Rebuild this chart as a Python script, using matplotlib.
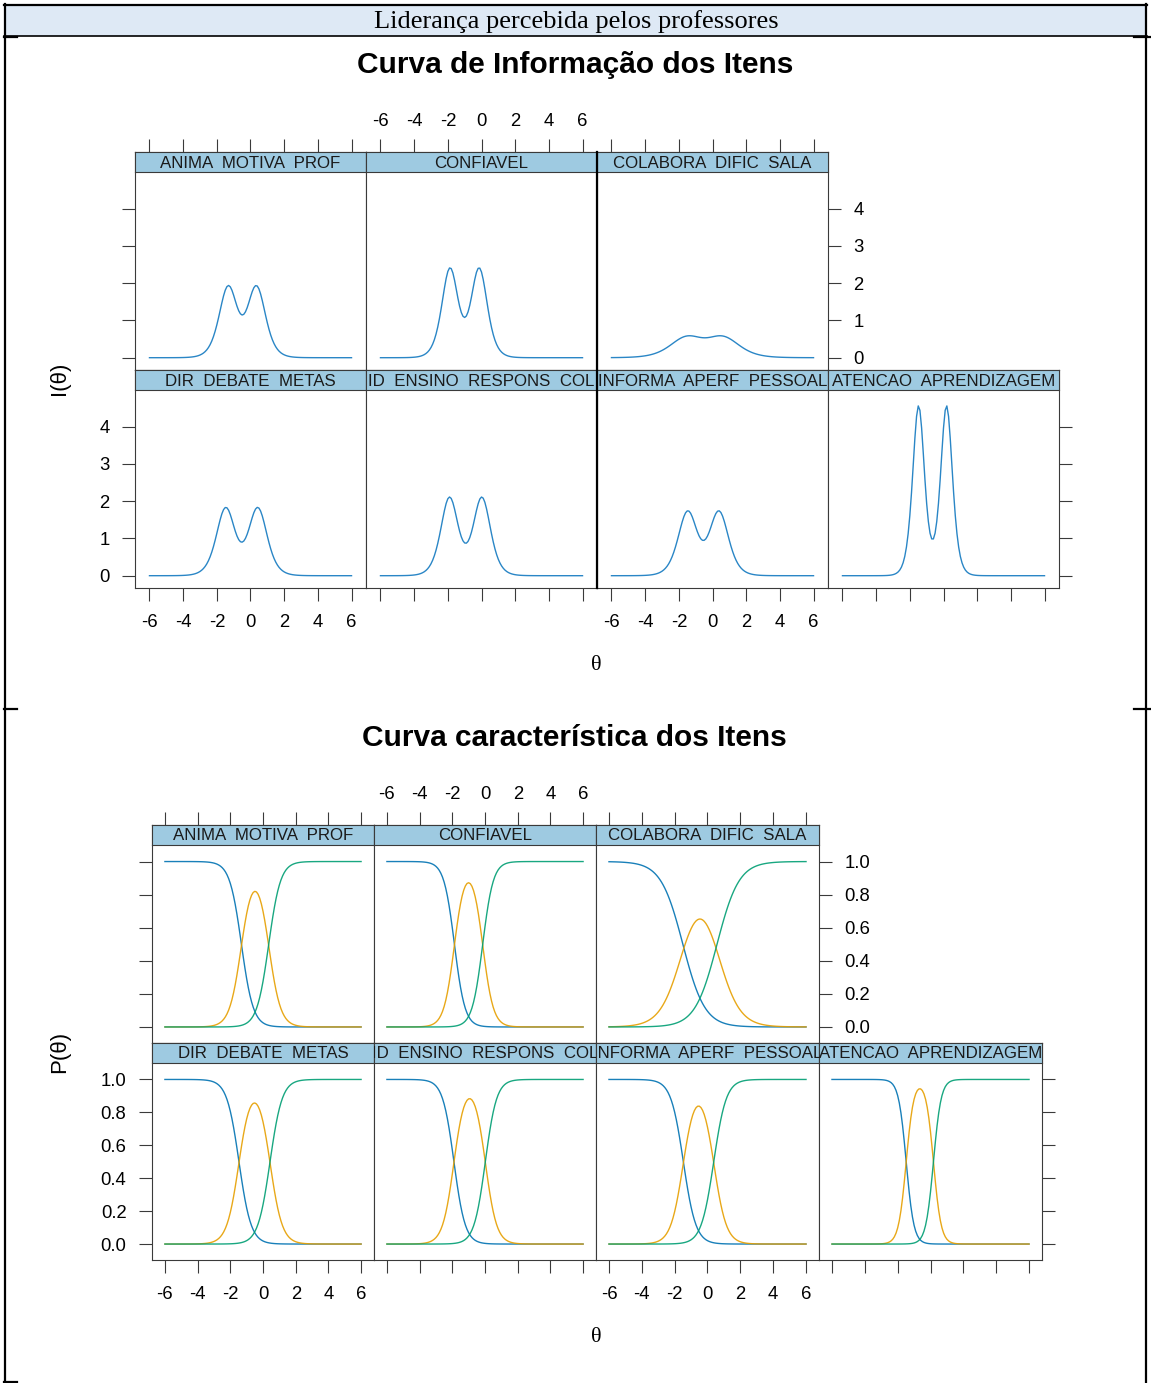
import numpy as np
import matplotlib
matplotlib.use("Agg")
import matplotlib.pyplot as plt
from matplotlib.patches import Rectangle
from matplotlib.transforms import ScaledTranslation

W, H = 1151, 1383

# ---------------- data (item parameters) ----------------
top_row_items = ["ANIMA  MOTIVA  PROF", "CONFIAVEL", "COLABORA  DIFIC  SALA"]
bottom_row_items = ["DIR  DEBATE  METAS", "ID  ENSINO  RESPONS  COL",
                    "INFORMA  APERF  PESSOAL", "ATENCAO  APRENDIZAGEM"]
slope_a = [2.77, 3.10, 1.50, 2.70, 2.90, 2.63, 4.27]
threshold_b1 = [-1.32, -1.87, -1.50, -1.47, -1.90, -1.47, -1.48]
threshold_b2 = [0.35, -0.14, 0.58, 0.43, 0.02, 0.38, 0.18]

x_ticks = [-6, -4, -2, 0, 2, 4, 6]
info_ticks = [0, 1, 2, 3, 4]
prob_ticks = [0.0, 0.2, 0.4, 0.6, 0.8, 1.0]
prob_tick_labels = ["0.0", "0.2", "0.4", "0.6", "0.8", "1.0"]

header_text = "Liderança percebida pelos professores"
title_info = "Curva de Informação dos Itens"
title_icc = "Curva característica dos Itens"

theta = np.linspace(-6, 6, 121)

# ---------------- graded response model ----------------
def pstar(a, b):
    return 1.0 / (1.0 + np.exp(-a * (theta - b)))

def categories(a, b1, b2):
    p1, p2 = pstar(a, b1), pstar(a, b2)
    return [1 - p1, p1 - p2, p2], [a * p1 * (1 - p1), a * p2 * (1 - p2)]

def information(a, b1, b2):
    (P0, P1, P2), (d1, d2) = categories(a, b1, b2)
    return d1 ** 2 / P0 + (d1 - d2) ** 2 / P1 + d2 ** 2 / P2

# ---------------- figure ----------------
plt.rcParams['font.family'] = ['Liberation Sans', 'DejaVu Sans']
fig = plt.figure(figsize=(W / 100, H / 100), dpi=100)

def px(x0, y0, x1, y1):
    return [x0 / W, 1 - y1 / H, (x1 - x0) / W, (y1 - y0) / H]

# overlay axes in pixel coordinates
ov = fig.add_axes([0, 0, 1, 1], zorder=-1)
ov.set_xlim(0, W)
ov.set_ylim(H, 0)
ov.axis('off')
ov.add_patch(Rectangle((5, 5), 1142, 31, facecolor='#DEE9F5', edgecolor='none'))
ov.plot([5, 5], [4, 1383], color='black', lw=1.6)
ov.plot([1146.5, 1146.5], [4, 1383], color='black', lw=1.6)
ov.plot([4, 1147], [5, 5], color='black', lw=1.6)
ov.plot([4, 1147], [36, 36], color='black', lw=1.2)
ov.plot([4, 17], [37, 37], color='black', lw=1.6)
ov.plot([1134, 1151], [37, 37], color='black', lw=1.6)
ov.plot([4, 17], [709, 709], color='black', lw=1.6)
ov.plot([1134, 1151], [709, 709], color='black', lw=1.6)
ov.plot([4, 17], [1382, 1382], color='black', lw=1.6)
ov.text(576, 22, header_text, ha='center', va='center', fontsize=19,
        family=['Liberation Serif', 'DejaVu Serif'])

STRIP = '#9ECAE1'
EDGE = '#3a3a3a'
LINE_BLUE = '#2a86c6'
ICC_COLORS = ['#0072B2', '#E69F00', '#009E73']
TICK_LEN = 9.4
PAD = 9
TFS = 13.3

def panel(cx0, cx1, sy0, sy1, py1, xlim, ylim, yt, ytl, sides, label):
    # main axes spans strip + panel so that the top ticks sit above the strip
    ph = py1 - sy1
    sh = sy1 - sy0
    ytop = ylim[1] + sh * (ylim[1] - ylim[0]) / ph
    ax = fig.add_axes(px(cx0, sy0, cx1, py1))
    ax.set_xlim(*xlim)
    ax.set_ylim(ylim[0], ytop)
    for s in ax.spines.values():
        s.set_color(EDGE)
        s.set_linewidth(0.8)
    ax.set_xticks(x_ticks)
    ax.set_xticklabels([str(t) for t in x_ticks])
    ax.set_yticks(yt)
    ax.set_yticklabels(ytl)
    ax.tick_params(axis='both', direction='out', length=TICK_LEN, width=0.8,
                   color=EDGE, pad=PAD, labelsize=TFS,
                   bottom='bottom' in sides, labelbottom='bottom_l' in sides,
                   top='top' in sides, labeltop=False,
                   left='left' in sides, labelleft='left_l' in sides,
                   right='right' in sides, labelright='right_l' in sides)
    if 'top_l' in sides:
        off = ScaledTranslation(0, 22 / 100, fig.dpi_scale_trans)
        for t in x_ticks:
            ax.text(t, 1.0, str(t), ha='center', va='bottom', fontsize=TFS,
                    transform=ax.get_xaxis_transform() + off, clip_on=False)
    sax = fig.add_axes(px(cx0, sy0, cx1, sy1))
    sax.set_facecolor(STRIP)
    sax.set_xticks([])
    sax.set_yticks([])
    for s in sax.spines.values():
        s.set_color(EDGE)
        s.set_linewidth(0.8)
    sax.text(0.5, 0.45, label, ha='center', va='center', fontsize=12.2,
             color='#1a1a1a', transform=sax.transAxes, clip_on=True)
    return ax

def lattice(cols, rows, xlim, ylim, yt, ytl, draw):
    names = top_row_items + bottom_row_items
    k = 0
    for r, n in enumerate([3, 4]):
        sy0, sy1, py1 = rows[r]
        for c in range(n):
            sides = []
            if r == 0:
                sides.append('top')
                if c == 1:
                    sides.append('top_l')
            if r == 1:
                sides.append('bottom')
                if c in (0, 2):
                    sides.append('bottom_l')
            if c == 0:
                sides.append('left')
                if r == 1:
                    sides.append('left_l')
            if c == n - 1:
                sides.append('right')
                if r == 0:
                    sides.append('right_l')
            ax = panel(cols[c], cols[c + 1], sy0, sy1, py1, xlim, ylim, yt, ytl, sides, names[k])
            draw(ax, k)
            k += 1

def draw_info(ax, k):
    ax.plot(theta, information(slope_a[k], threshold_b1[k], threshold_b2[k]),
            color=LINE_BLUE, lw=1.0)

def draw_icc(ax, k):
    cats, _ = categories(slope_a[k], threshold_b1[k], threshold_b2[k])
    for P, col in zip(cats, ICC_COLORS):
        ax.plot(theta, P, color=col, lw=1.0, alpha=0.9)

# top lattice: information
lattice([135, 366, 597, 828, 1059], [(152, 172, 370), (370, 390, 588)],
        (-6.86, 6.86), (-0.33, 4.98), info_ticks, [str(t) for t in info_ticks], draw_info)
# bottom lattice: category curves
lattice([152, 374, 596, 819, 1042], [(825, 845, 1043), (1043, 1063, 1260)],
        (-6.79, 6.79), (-0.097, 1.10), prob_ticks, prob_tick_labels, draw_icc)

# separators that look heavier in the picture
ov2 = fig.add_axes([0, 0, 1, 1], zorder=10)
ov2.set_xlim(0, W)
ov2.set_ylim(H, 0)
ov2.axis('off')
ov2.plot([597, 597], [152, 588], color='black', lw=1.6)

# titles and axis labels
ov2.text(575, 65, title_info, ha='center', va='center', fontsize=21.5, fontweight='bold')
ov2.text(574, 738, title_icc, ha='center', va='center', fontsize=21.5, fontweight='bold')
ov2.text(60, 378, "I(θ)", ha='center', va='center', rotation=90, fontsize=16)
ov2.text(60, 1052, "P(θ)", ha='center', va='center', rotation=90, fontsize=16)
ov2.text(596, 665, "θ", ha='center', va='center', fontsize=16,
         family=['Liberation Serif', 'DejaVu Serif'])
ov2.text(596, 1338, "θ", ha='center', va='center', fontsize=16,
         family=['Liberation Serif', 'DejaVu Serif'])

fig.savefig("out.png", dpi=100)
